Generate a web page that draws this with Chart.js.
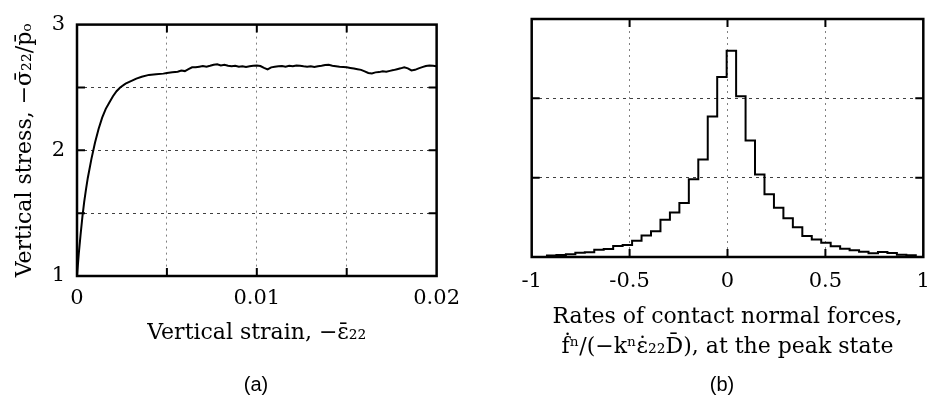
<!DOCTYPE html>
<html>
<head>
<meta charset="utf-8">
<script src="https://cdn.jsdelivr.net/npm/chart.js@4.4.0/dist/chart.umd.min.js"></script>
<style>
  html, body { margin: 0; background: #fff; overflow: hidden; }
  body { width: 928px; height: 407px; position: relative; }
  canvas { position: absolute; top: 0; }
  .cap { position: absolute; top: 373px; font: 20px "Liberation Sans", Arial, sans-serif; color: #000; transform: translateX(-50%); }
</style>
</head>
<body>
<canvas id="stressChart" width="470" height="380" style="left:0"></canvas>
<canvas id="rateChart" width="500" height="380" style="left:450px"></canvas>
<div class="cap" style="left:256px">(a)</div>
<div class="cap" style="left:722px">(b)</div>
<script>
// (a) stress-strain curve
const strain = [0, 0.0001, 0.0002, 0.0003, 0.0004, 0.0005, 0.0006, 0.0008, 0.0010, 0.0012,
  0.0014, 0.0016, 0.0018, 0.0020, 0.0022, 0.0024, 0.0027, 0.0030, 0.0033, 0.0036,
  0.0040, 0.0044, 0.0048, 0.0050, 0.0053, 0.0056, 0.0058, 0.0060, 0.0062, 0.0064,
  0.0066, 0.0068, 0.0070, 0.0072, 0.0074, 0.0076, 0.0078, 0.0080, 0.0082, 0.0084,
  0.0086, 0.0088, 0.0090, 0.0092, 0.0094, 0.0096, 0.0098, 0.0100, 0.0102, 0.0104,
  0.0106, 0.0108, 0.0110, 0.0112, 0.0114, 0.0116, 0.0118, 0.0120, 0.0122, 0.0124,
  0.0126, 0.0128, 0.0130, 0.0132, 0.0134, 0.0136, 0.0138, 0.0140, 0.0142, 0.0144,
  0.0146, 0.0148, 0.0150, 0.0152, 0.0154, 0.0156, 0.0158, 0.0160, 0.0162, 0.0164,
  0.0166, 0.0168, 0.0170, 0.0172, 0.0174, 0.0176, 0.0178, 0.0180, 0.0182, 0.0184,
  0.0186, 0.0188, 0.0190, 0.0192, 0.0194, 0.0196, 0.0198, 0.0200];
const stress = [1.00, 1.18, 1.33, 1.47, 1.59, 1.69, 1.78, 1.93, 2.06, 2.17,
  2.26, 2.33, 2.38, 2.43, 2.47, 2.50, 2.53, 2.55, 2.57, 2.585,
  2.60, 2.605, 2.61, 2.615, 2.62, 2.625, 2.635, 2.63, 2.645, 2.66,
  2.66, 2.665, 2.67, 2.665, 2.672, 2.68, 2.685, 2.675, 2.68, 2.672,
  2.668, 2.672, 2.665, 2.668, 2.662, 2.668, 2.672, 2.675, 2.67, 2.655,
  2.643, 2.66, 2.665, 2.668, 2.67, 2.665, 2.672, 2.668, 2.675, 2.672,
  2.668, 2.665, 2.668, 2.662, 2.668, 2.672, 2.678, 2.68, 2.672, 2.668,
  2.664, 2.662, 2.66, 2.655, 2.65, 2.645, 2.64, 2.628, 2.615, 2.612,
  2.62, 2.622, 2.628, 2.625, 2.632, 2.638, 2.645, 2.652, 2.66, 2.652,
  2.635, 2.64, 2.652, 2.662, 2.67, 2.675, 2.672, 2.668];

// (b) histogram of contact normal force rates
const binStart = -0.922;
const binWidth = 0.0483;
const rateCounts = [0.02, 0.025, 0.035, 0.055, 0.06, 0.09, 0.10, 0.14, 0.15, 0.206,
  0.27, 0.325, 0.468, 0.56, 0.68, 0.98, 1.23, 1.77, 2.27, 2.60,
  2.025, 1.47, 1.04, 0.79, 0.62, 0.49, 0.375, 0.266, 0.22, 0.18,
  0.135, 0.105, 0.085, 0.067, 0.047, 0.063, 0.05, 0.028, 0.022];

const serif = 'DejaVu Serif';
const tickFont = { family: serif, size: 21 };
const titleFont = { family: serif, size: 22 };

// frame round the plot area plus inward ticks at every inner grid line
const frameTicks = {
    id: 'frameTicks',
    afterDatasetsDraw(chart) {
        const { ctx, chartArea: a, scales } = chart;
        const len = 8;
        ctx.save();
        ctx.strokeStyle = '#000';
        ctx.lineWidth = 2;
        ctx.beginPath();
        scales.x.ticks.forEach(t => {
            if (t.value <= scales.x.min || t.value >= scales.x.max) return;
            const px = scales.x.getPixelForValue(t.value);
            ctx.moveTo(px, a.bottom); ctx.lineTo(px, a.bottom - len);
            ctx.moveTo(px, a.top); ctx.lineTo(px, a.top + len);
        });
        scales.y.ticks.forEach(t => {
            if (t.value <= scales.y.min || t.value >= scales.y.max) return;
            const py = scales.y.getPixelForValue(t.value);
            ctx.moveTo(a.left, py); ctx.lineTo(a.left + len, py);
            ctx.moveTo(a.right, py); ctx.lineTo(a.right - len, py);
        });
        ctx.stroke();
        ctx.lineWidth = 2.5;
        ctx.strokeRect(a.left, a.top, a.right - a.left, a.bottom - a.top);
        ctx.restore();
    }
};

const stressPoints = strain.map((s, i) => ({ x: s, y: stress[i] }));

new Chart(document.getElementById('stressChart'), {
    type: 'line',
    data: {
        datasets: [{
            data: stressPoints,
            borderColor: '#000',
            borderWidth: 2,
            pointRadius: 0,
            tension: 0
        }]
    },
    options: {
        responsive: false,
        animation: false,
        layout: { padding: { top: 18, right: 32, left: 0, bottom: 0 } },
        plugins: { legend: { display: false }, tooltip: { enabled: false } },
        scales: {
            x: {
                type: 'linear', min: 0, max: 0.02,
                afterFit: s => { s.height = 104; },
                grid: { color: '#808080', lineWidth: 1, drawTicks: false },
                border: { display: false, dash: [2, 4] },
                ticks: {
                    stepSize: 0.005, padding: 10, color: '#000', font: tickFont, maxRotation: 0,
                    callback: v => Math.abs(v * 100 - Math.round(v * 100)) < 1e-6 ? String(+v.toFixed(2)) : ''
                },
                title: { display: true, text: 'Vertical strain, −ε̄₂₂', color: '#000', font: titleFont, padding: { top: 0, bottom: 34 } }
            },
            y: {
                min: 1, max: 3,
                afterFit: s => { s.width = 77; },
                grid: { color: '#404040', lineWidth: 1, drawTicks: false },
                border: { display: false, dash: [3, 4] },
                ticks: {
                    stepSize: 0.5, padding: 12, color: '#000', font: tickFont,
                    callback: v => Number.isInteger(v) ? String(v) : ''
                },
                title: { display: true, text: 'Vertical stress, −σ̄₂₂/p̄ₒ', color: '#000', font: titleFont, padding: { top: 12, bottom: 0 } }
            }
        }
    },
    plugins: [frameTicks]
});

// step outline: rise at the first edge, one point per bin left edge, drop at the last edge
const rateEdges = rateCounts.map((_, i) => binStart + i * binWidth);
const ratePoints = [{ x: rateEdges[0], y: 0 }]
    .concat(rateCounts.map((c, i) => ({ x: rateEdges[i], y: c })))
    .concat([{ x: binStart + rateCounts.length * binWidth, y: 0 }]);

new Chart(document.getElementById('rateChart'), {
    type: 'line',
    data: {
        datasets: [{
            data: ratePoints,
            borderColor: '#000',
            borderWidth: 2,
            pointRadius: 0,
            stepped: 'before'
        }]
    },
    options: {
        responsive: false,
        animation: false,
        layout: { padding: { top: 19, right: 26.7, left: 0, bottom: 0 } },
        plugins: { legend: { display: false }, tooltip: { enabled: false } },
        scales: {
            x: {
                type: 'linear', min: -1, max: 1,
                afterFit: s => { s.height = 123; },
                grid: { color: '#808080', lineWidth: 1, drawTicks: false },
                border: { display: false, dash: [2, 4] },
                ticks: {
                    stepSize: 0.5, padding: 12, color: '#000', font: tickFont, maxRotation: 0,
                    callback: v => String(v)
                },
                title: {
                    display: true,
                    text: ['Rates of contact normal forces,', 'ḟⁿ/(−kⁿε̇₂₂D̄), at the peak state'],
                    color: '#000', font: { family: serif, size: 22, lineHeight: 1.36 },
                    padding: { top: 0, bottom: 18 }
                }
            },
            y: {
                min: 0, max: 3,
                afterFit: s => { s.width = 81.7; },
                grid: { color: '#404040', lineWidth: 1, drawTicks: false },
                border: { display: false, dash: [3, 4] },
                ticks: { stepSize: 1, display: false }
            }
        }
    },
    plugins: [frameTicks]
});
</script>
</body>
</html>
